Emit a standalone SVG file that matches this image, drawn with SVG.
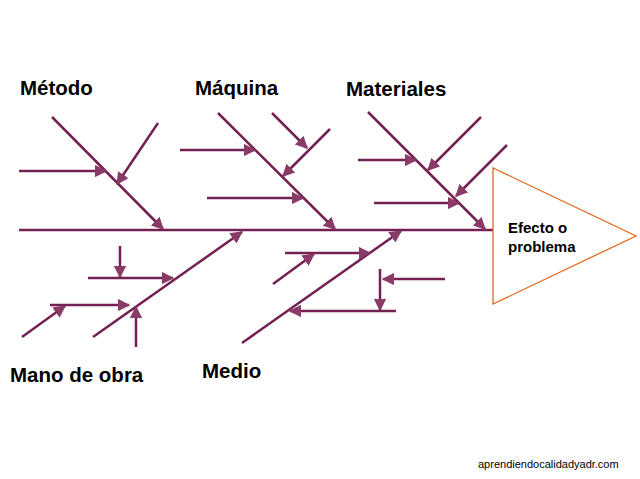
<svg xmlns="http://www.w3.org/2000/svg" width="640" height="479" viewBox="0 0 640 479">
<style>
.l{stroke:#732152;stroke-width:2.5;fill:none}
.a{stroke:#732152;stroke-width:2.5;fill:none;marker-end:url(#ah)}
.t{font-family:"Liberation Sans",Arial,sans-serif;font-weight:bold;font-size:20.5px;fill:#000}
</style>
<defs><marker id="ah" viewBox="0 0 10 10" refX="9" refY="5" markerWidth="5" markerHeight="5" orient="auto" markerUnits="strokeWidth"><path d="M0,0L10,5L0,10z" fill="#8a3a66"/></marker></defs>
<rect width="640" height="479" fill="#fff"/>
<g id="connectors">
<line class="l" x1="19" y1="230" x2="493" y2="230"/>
<line class="a" x1="52" y1="117" x2="163" y2="229"/>
<line class="a" x1="19" y1="171" x2="106" y2="171"/>
<line class="a" x1="158" y1="123" x2="117" y2="184"/>
<line class="a" x1="218" y1="113" x2="335" y2="229"/>
<line class="a" x1="180" y1="150" x2="255" y2="150"/>
<line class="a" x1="272" y1="113" x2="307" y2="148"/>
<line class="a" x1="330" y1="129" x2="283" y2="176"/>
<line class="a" x1="207" y1="198" x2="303" y2="198"/>
<line class="a" x1="368" y1="112" x2="485" y2="229"/>
<line class="a" x1="358" y1="160" x2="416" y2="160"/>
<line class="a" x1="481" y1="117" x2="428" y2="170"/>
<line class="a" x1="507" y1="145" x2="456" y2="196"/>
<line class="a" x1="374" y1="203" x2="459" y2="203"/>
<line class="a" x1="93" y1="337" x2="242" y2="232"/>
<line class="a" x1="88" y1="278" x2="173" y2="278"/>
<line class="a" x1="120" y1="246" x2="120" y2="277"/>
<line class="a" x1="50" y1="305" x2="129" y2="305"/>
<line class="a" x1="22" y1="337" x2="65" y2="306"/>
<line class="a" x1="136" y1="347" x2="136" y2="307"/>
<line class="a" x1="242" y1="343" x2="401" y2="231"/>
<line class="a" x1="285" y1="253" x2="370" y2="253"/>
<line class="a" x1="273" y1="284" x2="314" y2="254"/>
<line class="a" x1="445" y1="279" x2="383" y2="279"/>
<line class="a" x1="380" y1="269" x2="380" y2="310"/>
<line class="a" x1="396" y1="311" x2="290" y2="311"/>
</g>
<g id="effect"><polygon points="493,168 636,236 493,304" fill="#fff" stroke="#e06a1e" stroke-width="1.3"/>
<text x="508" y="233" font-family="Liberation Sans,Arial,sans-serif" font-weight="bold" font-size="15">Efecto o</text>
<text x="508" y="252" font-family="Liberation Sans,Arial,sans-serif" font-weight="bold" font-size="15">problema</text></g>
<g id="labels">
<text class="t" x="20" y="95">Método</text>
<text class="t" x="195" y="95">Máquina</text>
<text class="t" x="346" y="96">Materiales</text>
<text class="t" x="10" y="382">Mano de obra</text>
<text class="t" x="202" y="378">Medio</text>
<text x="478" y="468" font-family="Liberation Sans,Arial,sans-serif" font-size="11">aprendiendocalidadyadr.com</text>
</g>
</svg>
